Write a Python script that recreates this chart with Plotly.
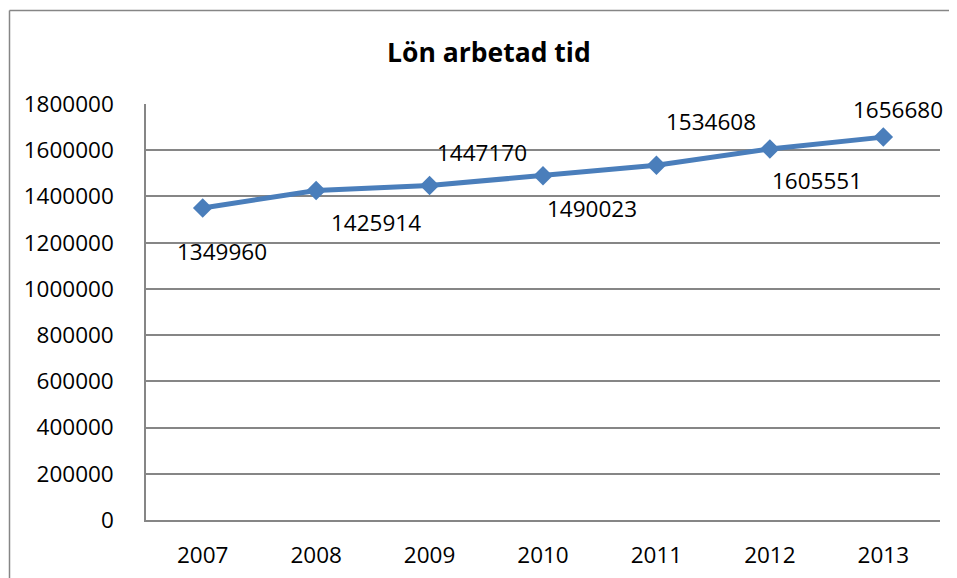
import plotly.graph_objects as go

years = ["2007", "2008", "2009", "2010", "2011", "2012", "2013"]
values = [1349960, 1425914, 1447170, 1490023, 1534608, 1605551, 1656680]
y_ticks = [0, 200000, 400000, 600000, 800000, 1000000, 1200000, 1400000, 1600000, 1800000]
title_text = "Lön arbetad tid"

# label offsets (pixels) relative to each marker
label_dx = [19, 60, 52, 49, 55, 47, 15]
label_dy = [-43, -32, 33, -33, 44, -32, 28]

FONT = "Open Sans"
LINE = "#4A7EBB"
GRID = "#868686"

# page body has an 8px margin; compensate so the chart lands at the target pixels
OFF = 8
L, T, R, B = 146 - OFF, 104 - OFF, 17, 58
PW, PH = 794, 416

fig = go.Figure()
fig.add_trace(go.Scatter(
    x=years, y=values, mode="lines+markers",
    line=dict(color=LINE, width=5),
    marker=dict(symbol="diamond", size=15, color=LINE),
    showlegend=False, hoverinfo="x+y",
))

for i, (v, dx, dy) in enumerate(zip(values, label_dx, label_dy)):
    fig.add_annotation(x=i, y=v, xref="x", yref="y", text=str(v), showarrow=False,
                       xanchor="center", yanchor="middle",
                       xshift=dx, yshift=dy,
                       font=dict(family=FONT, size=22.5, color="#000000"))

fig.add_annotation(xref="paper", yref="paper", x=(489 - 146) / PW, y=1 + (104 - 52) / PH,
                   xanchor="center", yanchor="middle",
                   text="<b>" + title_text + "</b>", showarrow=False,
                   font=dict(family=FONT, size=26.5, color="#000000"))

# outer chart border (top and left edges visible in the crop)
bx = (9.5 - 146) / PW
by = 1 + (104 - 10.5) / PH
fig.add_shape(type="line", xref="paper", yref="paper", x0=bx, x1=1.3, y0=by, y1=by,
              line=dict(color=GRID, width=1.5), layer="below")
fig.add_shape(type="line", xref="paper", yref="paper", x0=bx, x1=bx, y0=-0.3, y1=by,
              line=dict(color=GRID, width=1.5), layer="below")

fig.update_layout(
    width=957 - OFF, height=578 - OFF,
    margin=dict(l=L, r=R, t=T, b=B, autoexpand=False),
    paper_bgcolor="white", plot_bgcolor="white",
    font=dict(family=FONT, size=22.5, color="#000000"),
)
fig.update_xaxes(type="category", showgrid=False, showline=True, linecolor=GRID, linewidth=1.5,
                 ticks="", ticklabelstandoff=14, range=[-0.5, 6.5], zeroline=False,
                 automargin=False)
fig.update_yaxes(range=[0, 1800000], tickvals=y_ticks, ticktext=[str(t) for t in y_ticks],
                 showgrid=True, gridcolor=GRID, gridwidth=1.5, showline=True, linecolor=GRID,
                 linewidth=1.5, ticks="", ticklabelstandoff=26, zeroline=False,
                 automargin=False)

fig.write_html("out.html")
